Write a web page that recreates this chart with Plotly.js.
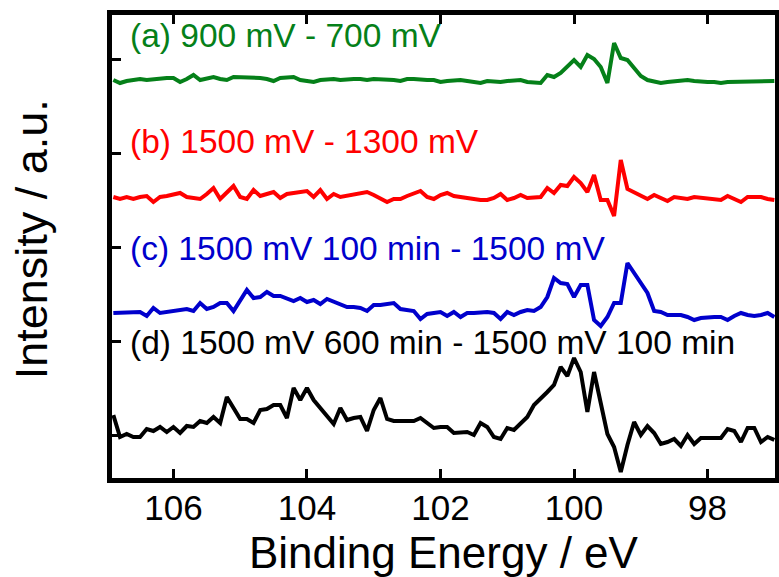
<!DOCTYPE html>
<html>
<head>
<meta charset="utf-8">
<script src="https://cdn.plot.ly/plotly-3.0.1.min.js"></script>
<style>html,body{margin:0;padding:0;background:#fff;}#chart{width:779px;height:577px;}</style>
</head>
<body>
<div id="chart"></div>
<script>
// Binding energy (eV)
const energy = [106.9,106.8,106.7,106.6,106.5,106.4,106.3,106.2,106.1,106.0,
  105.9,105.8,105.7,105.6,105.5,105.4,105.3,105.2,105.1,105.0,
  104.9,104.8,104.7,104.6,104.5,104.4,104.3,104.2,104.1,104.0,
  103.9,103.8,103.7,103.6,103.5,103.4,103.3,103.2,103.1,103.0,
  102.9,102.8,102.7,102.6,102.5,102.4,102.3,102.2,102.1,102.0,
  101.9,101.8,101.7,101.6,101.5,101.4,101.3,101.2,101.1,101.0,
  100.9,100.8,100.7,100.6,100.5,100.4,100.3,100.2,100.1,100.0,
  99.9,99.8,99.7,99.6,99.5,99.4,99.3,99.2,99.1,99.0,
  98.9,98.8,98.7,98.6,98.5,98.4,98.3,98.2,98.1,98.0,
  97.9,97.8,97.7,97.6,97.5,97.4,97.3,97.2,97.1,97.0];

// (a) 900 mV - 700 mV (offset intensity, a.u.)
const seriesA = [398,395,397,398,399,398,399,399,400,400,
  396,399,403,398,400,401,399,398,401,401,
  401,401,400,399,397,400,401,401,398,397,
  396,398,399,399,398,399,399,399,398,399,
  399,398,398,397,399,399,398,398,398,396,
  397,398,398,397,396,395,397,396,396,397,
  398,398,396,396,395,403,401,405,412,418,
  411,423,419,411,395,435,420,418,410,402,
  398,396,395,396,397,398,398,397,396,396,
  396,395,396,396,397,397,397,397,397,397];

// (b) 1500 mV - 1300 mV
const seriesB = [281,279,281,279,281,282,276,281,282,283,
  285,281,280,279,284,290,279,285,292,281,
  279,288,282,284,286,280,284,285,286,287,
  281,288,279,284,281,282,284,285,286,283,
  280,276,279,279,282,284,287,281,279,283,
  285,282,281,279,279,278,278,280,284,278,
  280,283,280,281,281,290,285,293,292,301,
  295,286,303,278,278,262,318,289,286,283,
  279,283,280,277,281,280,279,281,280,279,
  279,278,282,279,276,281,281,281,279,278];

// (c) 1500 mV 100 min - 1500 mV
const seriesC = [165,165,165,166,166,162,170,165,166,166,
  167,169,167,175,169,171,175,175,167,178,
  188,180,181,186,182,182,180,177,180,176,
  178,174,179,176,174,171,171,170,167,173,
  173,174,175,169,168,167,159,164,165,166,
  162,166,161,165,165,166,166,165,159,166,
  163,166,168,167,171,181,200,195,194,181,
  193,193,158,152,161,175,175,215,205,195,
  185,167,166,163,163,163,161,158,160,161,
  161,161,158,162,165,163,162,163,165,161];

// (d) 1500 mV 600 min - 1500 mV 100 min
const seriesD = [63,41,44,41,41,49,47,51,46,51,
  45,52,51,57,55,61,55,81,70,59,
  59,55,68,69,73,73,60,90,78,90,
  78,70,62,54,70,58,60,61,47,68,
  80,59,57,57,57,57,60,55,50,51,
  51,45,46,46,43,55,51,41,39,50,
  48,54,61,73,79,86,93,111,102,120,
  106,66,106,77,44,31,6,33,56,43,
  52,45,34,36,39,32,43,34,40,40,
  40,40,49,47,36,50,50,36,41,38];

const labels = ["(a) 900 mV - 700 mV", "(b) 1500 mV - 1300 mV",
  "(c) 1500 mV 100 min - 1500 mV", "(d) 1500 mV 600 min - 1500 mV 100 min"];
const colors = ["rgb(5,128,25)", "#ff0000", "#0000cc", "#000000"];
const xTicks = [106, 104, 102, 100, 98];
const yTicks = [43, 137, 231, 325, 419];
const xTitle = "Binding Energy / eV";
const yTitle = "Intensity / a.u.";

const seriesList = [seriesA, seriesB, seriesC, seriesD];
const labelY = [443, 337, 230, 136];

const traces = seriesList.map((s, i) => ({
  x: energy, y: s, type: 'scatter', mode: 'lines',
  name: labels[i], line: {color: colors[i], width: 4}, showlegend: false
}));

const FONT = '"Liberation Sans", Arial, Helvetica, sans-serif';

const annotations = labels.map((t, i) => ({
  text: t, xref: 'paper', yref: 'y', x: 0.024, y: labelY[i],
  xanchor: 'left', yanchor: 'middle', showarrow: false,
  font: {family: FONT, size: 33.5, color: colors[i]}
}));
annotations.push({
  text: yTitle, xref: 'paper', yref: 'paper', x: -0.121, y: 0.515,
  xanchor: 'center', yanchor: 'middle', textangle: -90, showarrow: false,
  font: {family: FONT, size: 45, color: '#000'}
});
annotations.push({
  text: xTitle, xref: 'paper', yref: 'paper', x: 0.5, y: -0.161,
  xanchor: 'center', yanchor: 'middle', showarrow: false,
  font: {family: FONT, size: 44, color: '#000'}
});

const layout = {
  width: 779, height: 577,
  margin: {l: 112, r: 4, t: 15, b: 99},
  paper_bgcolor: '#fff', plot_bgcolor: '#fff',
  showlegend: false,
  xaxis: {
    range: [106.92, 96.99], tickvals: xTicks, ticktext: xTicks.map(String),
    ticks: 'inside', ticklen: 9, tickwidth: 3, tickcolor: '#000',
    showline: true, linewidth: 5, linecolor: '#000', mirror: 'allticks',
    showgrid: false, zeroline: false, ticklabelstandoff: -5,
    tickfont: {family: FONT, size: 35, color: '#000'}
  },
  yaxis: {
    range: [0, 463], tickvals: yTicks, showticklabels: false,
    ticks: 'inside', ticklen: 9, tickwidth: 3, tickcolor: '#000',
    showline: true, linewidth: 5, linecolor: '#000', mirror: true,
    showgrid: false, zeroline: false
  },
  annotations: annotations
};

Plotly.newPlot('chart', traces, layout, {displayModeBar: false, staticPlot: true});
</script>
</body>
</html>
